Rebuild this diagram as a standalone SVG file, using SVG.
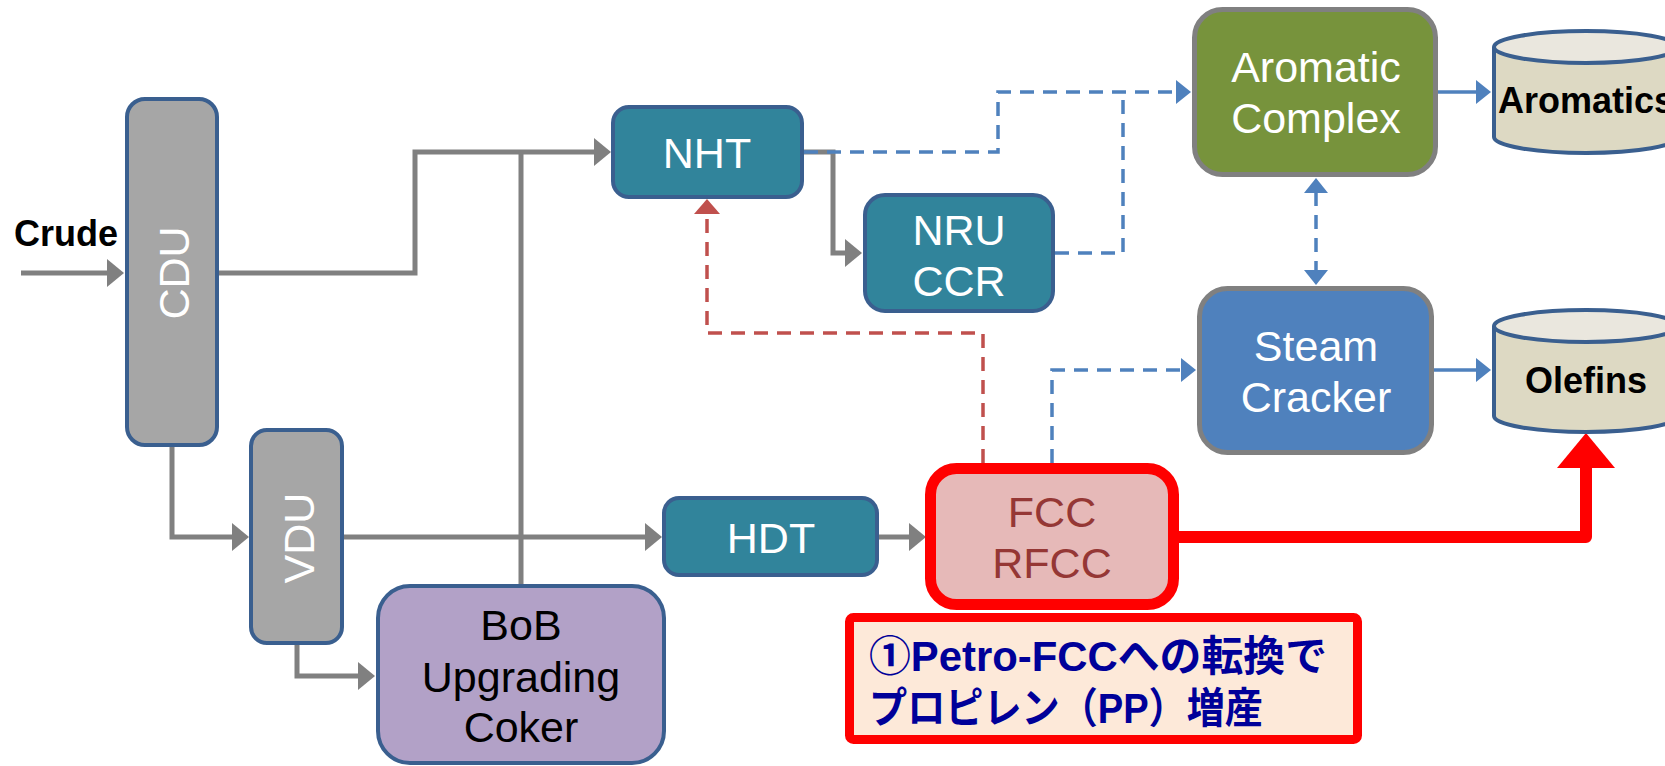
<svg xmlns="http://www.w3.org/2000/svg" width="1665" height="766" viewBox="0 0 1665 766">
  <defs>
    <style>
      .unit { stroke: #3A5F8F; stroke-width: 4; }
      .grey { fill: #A6A6A6; }
      .teal { fill: #31849B; }
      .lbl { font-family: "Liberation Sans", Arial, sans-serif; font-size: 43px; text-anchor: middle; }
      .w { fill: #FFFFFF; }
      .bold { font-family: "Liberation Sans", Arial, sans-serif; font-weight: bold; fill: #000000; }
      .flow { fill: none; stroke: #808080; stroke-width: 5; }
      .dash-b { fill: none; stroke: #4F81BD; stroke-width: 3.5; stroke-dasharray: 14 9; }
      .line-b { fill: none; stroke: #4F81BD; stroke-width: 3.5; }
      .dash-r { fill: none; stroke: #C0504D; stroke-width: 3.5; stroke-dasharray: 14 9; }
      .tank-body { fill: #DDD9C3; stroke: #3A5F8F; stroke-width: 4; }
      .tank-top { fill: #EAE7DE; stroke: #3A5F8F; stroke-width: 4; }
    </style>
    <marker id="ag" markerUnits="userSpaceOnUse" markerWidth="18" markerHeight="28" refX="1" refY="14" orient="auto" overflow="visible">
      <path d="M0,0 L17,14 L0,28 z" fill="#808080"/>
    </marker>
    <marker id="ab" markerUnits="userSpaceOnUse" markerWidth="16" markerHeight="24" refX="1" refY="12" orient="auto-start-reverse" overflow="visible">
      <path d="M0,0 L15,12 L0,24 z" fill="#4F81BD"/>
    </marker>
    <marker id="ar" markerUnits="userSpaceOnUse" markerWidth="16" markerHeight="26" refX="1" refY="13" orient="auto" overflow="visible">
      <path d="M0,0 L15,13 L0,26 z" fill="#C0504D"/>
    </marker>
    <marker id="abig" markerUnits="userSpaceOnUse" markerWidth="36" markerHeight="58" refX="1" refY="29" orient="auto" overflow="visible">
      <path d="M0,0 L35,29 L0,58 z" fill="#FF0000"/>
    </marker>
  </defs>

  <rect width="1665" height="766" fill="#FFFFFF"/>

  <!-- flows -->
  <g id="connectors">
    <path class="flow" d="M21,273 H108" marker-end="url(#ag)"/>
    <path class="flow" d="M219,273 H415 V152 H595" marker-end="url(#ag)"/>
    <path class="flow" d="M521,584 V152"/>
    <path class="flow" d="M804,152 H833 V253 H846" marker-end="url(#ag)"/>
    <path class="flow" d="M172,446 V537 H233" marker-end="url(#ag)"/>
    <path class="flow" d="M344,537 H646" marker-end="url(#ag)"/>
    <path class="flow" d="M297,645 V676 H359" marker-end="url(#ag)"/>
    <path class="flow" d="M879,537 H910" marker-end="url(#ag)"/>

    <path class="dash-b" d="M804,152 H998 V92 H1177" marker-end="url(#ab)"/>
    <path class="dash-b" d="M1055,253 H1123 V92"/>
    <path class="dash-b" d="M1052,463 V370 H1182" marker-end="url(#ab)"/>
    <path class="dash-b" d="M1316,192 V271" marker-start="url(#ab)" marker-end="url(#ab)"/>

    <path class="line-b" d="M1438,92 H1477" marker-end="url(#ab)"/>
    <path class="line-b" d="M1434,370 H1477" marker-end="url(#ab)"/>

    <path class="dash-r" d="M983,463 V333 H707 V213" marker-end="url(#ar)"/>

    <path d="M1179,537 H1586 V467" fill="none" stroke="#FF0000" stroke-width="12" stroke-linejoin="round" marker-end="url(#abig)"/>
  </g>

  <g id="crude">
    <text class="bold" x="14" y="246" font-size="36">Crude</text>
  </g>

  <g id="cdu">
    <rect class="unit grey" x="127" y="99" width="90" height="346" rx="18"/>
    <text class="lbl w" transform="translate(172,273) rotate(-90)" x="0" y="17" font-size="48">CDU</text>
  </g>

  <g id="vdu">
    <rect class="unit grey" x="251" y="430" width="91" height="213" rx="16"/>
    <text class="lbl w" transform="translate(297,538) rotate(-90)" x="0" y="17" font-size="48">VDU</text>
  </g>

  <g id="bob">
    <rect class="unit" x="378" y="586" width="286" height="177" rx="32" fill="#B2A1C7"/>
    <text class="lbl" x="521" font-size="41" fill="#000000"><tspan x="521" y="640">BoB</tspan><tspan x="521" y="692">Upgrading</tspan><tspan x="521" y="742">Coker</tspan></text>
  </g>

  <g id="nht">
    <rect class="unit teal" x="613" y="107" width="189" height="90" rx="16"/>
    <text class="lbl w" x="707" y="168">NHT</text>
  </g>

  <g id="nru">
    <rect class="unit teal" x="865" y="195" width="188" height="116" rx="20"/>
    <text class="lbl w"><tspan x="959" y="245">NRU</tspan><tspan x="959" y="296">CCR</tspan></text>
  </g>

  <g id="hdt">
    <rect class="unit teal" x="664" y="498" width="213" height="77" rx="15"/>
    <text class="lbl w" x="771" y="553">HDT</text>
  </g>

  <g id="fcc">
    <rect x="930.5" y="468.5" width="243" height="136" rx="26" fill="#E6B9B8" stroke="#FF0000" stroke-width="11"/>
    <text class="lbl" fill="#953735"><tspan x="1052" y="527">FCC</tspan><tspan x="1052" y="578">RFCC</tspan></text>
  </g>

  <g id="aromatic-complex">
    <rect x="1194.5" y="9.5" width="241" height="165" rx="28" fill="#77933C" stroke="#808080" stroke-width="5"/>
    <text class="lbl w"><tspan x="1316" y="82">Aromatic</tspan><tspan x="1316" y="133">Complex</tspan></text>
  </g>

  <g id="steam-cracker">
    <rect x="1199.5" y="288.5" width="232" height="164" rx="28" fill="#4F81BD" stroke="#808080" stroke-width="5"/>
    <text class="lbl w"><tspan x="1316" y="361">Steam</tspan><tspan x="1316" y="412">Cracker</tspan></text>
  </g>

  <g id="aromatics">
    <path class="tank-body" d="M1494,47 V137 A92,16 0 0 0 1678,137 V47"/>
    <ellipse class="tank-top" cx="1586" cy="47" rx="92" ry="16"/>
    <text class="bold" x="1498" y="113" font-size="36">Aromatics</text>
  </g>

  <g id="olefins">
    <path class="tank-body" d="M1494,326 V416 A92,16 0 0 0 1678,416 V326"/>
    <ellipse class="tank-top" cx="1586" cy="326" rx="92" ry="16"/>
    <text class="bold" x="1586" y="393" font-size="36" text-anchor="middle">Olefins</text>
  </g>

  <g id="note">
    <rect x="849.5" y="617.5" width="508" height="122" rx="4" fill="#FDE9D9" stroke="#FF0000" stroke-width="9"/>
    <text font-family="'Liberation Sans', 'Noto Sans CJK JP', sans-serif" font-weight="bold" font-size="42" fill="#000099"><tspan x="869" y="671" textLength="458" lengthAdjust="spacingAndGlyphs">①Petro-FCCへの転換で</tspan><tspan x="869" y="723" textLength="394" lengthAdjust="spacingAndGlyphs">プロピレン（PP）増産</tspan></text>
  </g>
</svg>
